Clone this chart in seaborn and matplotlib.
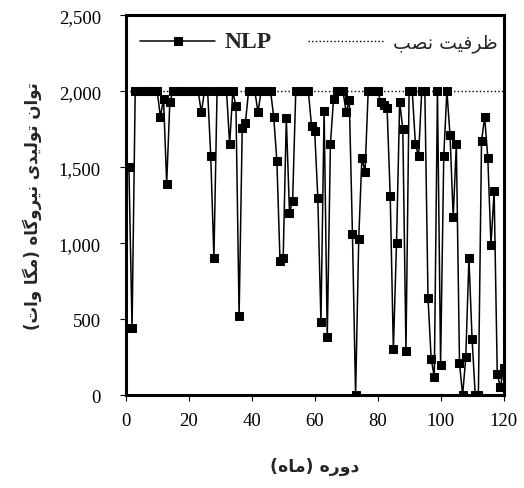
import numpy as np
import pandas as pd
import matplotlib
matplotlib.use("Agg")
import matplotlib.pyplot as plt
import seaborn as sns
from matplotlib.ticker import FuncFormatter


# =====================================================
# DATA
# =====================================================

months = list(range(1, 121))

nlp_output = [
    1500, 440, 2000, 2000, 2000, 2000, 2000, 2000, 2000, 2000,      # 1-10
    1830, 1950, 1390, 1930, 2000, 2000, 2000, 2000, 2000, 2000,     # 11-20
    2000, 2000, 2000, 1860, 2000, 2000, 1570, 900, 2000, 2000,      # 21-30
    2000, 2000, 1650, 2000, 1900, 520, 1760, 1790, 2000, 2000,      # 31-40
    2000, 1860, 2000, 2000, 2000, 2000, 1830, 1540, 880, 900,       # 41-50
    1820, 1200, 1280, 2000, 2000, 2000, 2000, 2000, 1770, 1740,     # 51-60
    1300, 480, 1870, 380, 1650, 1950, 2000, 2000, 2000, 1860,       # 61-70
    1940, 1060, 0, 1030, 1560, 1470, 2000, 2000, 2000, 2000,        # 71-80
    1930, 1910, 1890, 1310, 300, 1000, 1930, 1750, 290, 2000,       # 81-90
    2000, 1650, 1570, 2000, 2000, 640, 240, 120, 2000, 200,         # 91-100
    1570, 2000, 1710, 1170, 1650, 210, 0, 250, 900, 370,            # 101-110
    0, 0, 1670, 1830, 1560, 990, 1340, 140, 50, 180,                # 111-120
]

installed_capacity = 2000

x_ticks = [0, 20, 40, 60, 80, 100, 120]
y_ticks = [0, 500, 1000, 1500, 2000, 2500]

label_series = "NLP"
label_capacity = "ظرفیت نصب"
label_x = "دوره (ماه)"
label_y = "توان تولیدی نیروگاه (مگا وات)"


# =====================================================
# PERSIAN SHAPING (matplotlib has no bidi / joining)
# =====================================================

# isolated, final, initial, medial
FORMS = {
    "ا": ("\uFE8D", "\uFE8E", None, None),
    "د": ("\uFEA9", "\uFEAA", None, None),
    "ر": ("\uFEAD", "\uFEAE", None, None),
    "و": ("\uFEED", "\uFEEE", None, None),
    "ب": ("\uFE8F", "\uFE90", "\uFE91", "\uFE92"),
    "ت": ("\uFE95", "\uFE96", "\uFE97", "\uFE98"),
    "ص": ("\uFEB9", "\uFEBA", "\uFEBB", "\uFEBC"),
    "ظ": ("\uFEC5", "\uFEC6", "\uFEC7", "\uFEC8"),
    "ف": ("\uFED1", "\uFED2", "\uFED3", "\uFED4"),
    "ل": ("\uFEDD", "\uFEDE", "\uFEDF", "\uFEE0"),
    "م": ("\uFEE1", "\uFEE2", "\uFEE3", "\uFEE4"),
    "ن": ("\uFEE5", "\uFEE6", "\uFEE7", "\uFEE8"),
    "ه": ("\uFEE9", "\uFEEA", "\uFEEB", "\uFEEC"),
    "ی": ("\uFBFC", "\uFBFD", "\uFBFE", "\uFBFF"),
    "گ": ("\uFB92", "\uFB93", "\uFB94", "\uFB95"),
}


def dual(ch):
    return ch in FORMS and FORMS[ch][2] is not None


def shape_fa(text):
    out = []
    for i, ch in enumerate(text):
        if ch not in FORMS:
            out.append(ch)
            continue
        prev = text[i - 1] if i > 0 else ""
        nxt = text[i + 1] if i + 1 < len(text) else ""
        join_prev = dual(prev)
        join_next = dual(ch) and nxt in FORMS
        iso, fin, ini, med = FORMS[ch]
        if join_prev and join_next:
            out.append(med)
        elif join_prev:
            out.append(fin)
        elif join_next:
            out.append(ini)
        else:
            out.append(iso)
    vis = "".join(reversed(out))
    return vis.translate(str.maketrans("()", ")("))


# =====================================================
# PLOT
# =====================================================

sns.set_theme(style="ticks")
plt.rcParams["font.family"] = ["Liberation Serif", "DejaVu Sans"]

df = pd.DataFrame({"month": months, "power": nlp_output})

fig = plt.figure(figsize=(5.24, 4.89), dpi=100)
ax = fig.add_axes([0.240, 0.190, 0.721, 0.777])

sns.lineplot(
    data=df, x="month", y="power", ax=ax,
    color="black", linewidth=1.1,
    marker="s", markersize=5.3, markeredgecolor="black",
    label=label_series,
)

ax.axhline(installed_capacity, color="black", linestyle=":", linewidth=1.0,
           label=shape_fa(label_capacity))

ax.set_xlim(0, 120)
ax.set_ylim(0, 2500)
ax.set_xticks(x_ticks)
ax.set_yticks(y_ticks)
ax.yaxis.set_major_formatter(FuncFormatter(lambda v, p: f"{int(v):,}"))

for side in ["left", "right", "top", "bottom"]:
    ax.spines[side].set_visible(True)
    ax.spines[side].set_color("black")
    ax.spines[side].set_linewidth(2.2)

ax.tick_params(axis="both", direction="out", length=4, width=0.8,
               colors="black", labelsize=13.5)
ax.tick_params(axis="x", pad=8)
ax.tick_params(axis="y", pad=14)
for t in ax.get_xticklabels() + ax.get_yticklabels():
    t.set_fontfamily("Liberation Serif")

ax.set_xlabel(shape_fa(label_x), fontsize=12.5, fontweight="bold",
              family="DejaVu Sans", labelpad=20)
ax.set_ylabel(shape_fa(label_y), fontsize=12, fontweight="bold",
              family="DejaVu Sans", labelpad=12)

leg = ax.legend(loc="upper center", ncol=2, frameon=False,
                bbox_to_anchor=(0.51, 1.0), handlelength=4.2,
                columnspacing=2.0, handletextpad=0.5, fontsize=13)
txts = leg.get_texts()
txts[0].set_fontfamily("Liberation Serif")
txts[0].set_fontweight("bold")
txts[0].set_fontsize(17)
txts[1].set_fontfamily("DejaVu Sans")
txts[1].set_fontsize(13.5)

fig.savefig("out.png", dpi=100, facecolor="white")
